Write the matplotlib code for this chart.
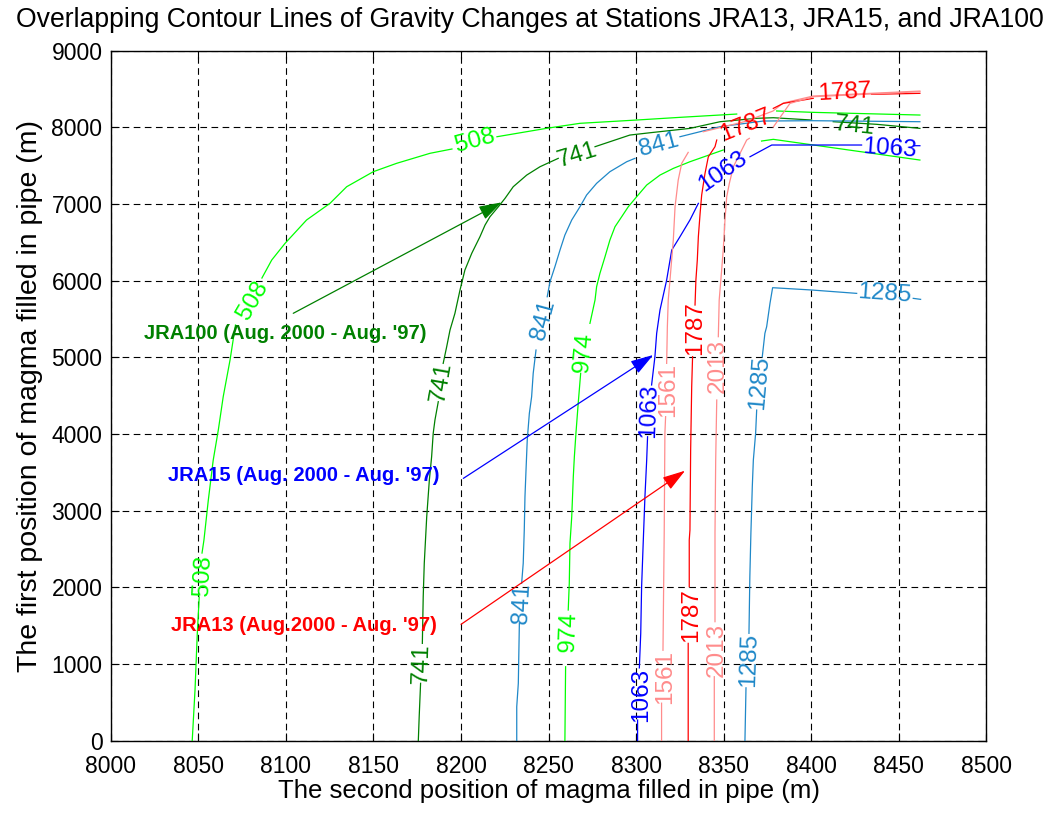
import numpy as np
import matplotlib
matplotlib.use('Agg')
import matplotlib.pyplot as plt

nan = np.nan

# ---------------- data ----------------
x_ticks = [8000, 8050, 8100, 8150, 8200, 8250, 8300, 8350, 8400, 8450, 8500]
y_ticks = [0, 1000, 2000, 3000, 4000, 5000, 6000, 7000, 8000, 9000]

# JRA100 contours
c508_x = [8046.5, 8048.1, 8049.4, 8050.5, nan, 8052.1, 8053.2, 8055.7, 8058.5, 8061.4, 8064.2, 8068.1, 8071.2, nan,
          8086.3, 8091.9, 8099.5, 8111.8, 8125.2, 8134.7, 8149.9, 8163.2, 8182.3, 8194.8, nan,
          8220.5, 8248.9, 8267.9, 8300.3, 8325.1, 8357.4, nan, 8380.2, 8401.1, 8462]
c508_y = [0, 661, 1401, 1874, nan, 2448, 2618, 3140, 3661, 4053, 4487, 4966, 5422, nan,
          6035, 6270, 6487, 6792, 7010, 7226, 7422, 7531, 7662, 7718, nan,
          7878, 7988, 8053, 8096, 8131, 8174, nan, 8214, 8196, 8161]

c741_x = [8175.6, 8176.1, 8176.9, nan, 8177.9, 8178.4, 8179.0, 8180.4, 8181.9, 8183.2, 8184.1, 8185.1, 8187.0, nan,
          8189.8, 8191.8, 8193.7, 8196.5, 8199.4, 8202.2, 8206.1, 8210.8, 8213.7, 8216.5, 8221.3, 8225.1, 8229.8,
          8237.5, 8245.1, 8255.5, nan, 8276.5, 8296.4, 8307.9, 8330.7, 8347.9, 8368.8, 8378.3, 8400.2, nan,
          8412.5, 8437.3, 8462]
c741_y = [0, 313, 749, nan, 1270, 1878, 2314, 2922, 3400, 3704, 4009, 4183, 4422, nan,
          4922, 5139, 5357, 5574, 5878, 6139, 6357, 6574, 6726, 6834, 6965, 7074, 7226,
          7378, 7487, 7596, nan, 7748, 7900, 7930, 7987, 8074, 8118, 8126, 8096, nan,
          8074, 8040, 7987]

c974_x = [8259.3, 8259.7, nan, 8261.2, 8261.8, 8262.2, 8263.2, 8264.1, 8264.7, 8265.6, 8266.9, 8268.3, nan,
          8273.6, 8276.5, 8277.4, 8279.3, 8282.2, 8285.0, 8287.9, 8291.7, 8295.5, 8300.3, 8306.0, 8313.6,
          8321.2, 8330.7, 8349.7, nan, 8371.6, 8378.3, 8462]
c974_y = [0, 965, nan, 1705, 2053, 2575, 2922, 3444, 3704, 4009, 4401, 4792, nan,
          5444, 5748, 5922, 6096, 6313, 6531, 6704, 6834, 6965, 7096, 7248, 7378,
          7465, 7552, 7705, nan, 7822, 7844, 7574]

# JRA15 contours
c841_x = [8231.8, 8231.8, 8232.7, 8233.3, nan, 8234.6, 8235.5, 8236.1, 8236.5, 8237.1, 8237.8, 8239.0, 8240.3,
          8241.2, 8242.8, nan, 8249.2, 8250.8, 8253.6, 8256.5, 8259.3, 8263.2, 8267.9, 8271.7, 8277.4, 8285.0,
          8294.6, 8299.3, nan, 8325.0, 8347.9, 8372.6, 8401.1, 8462]
c841_y = [0, 443, 749, 1531, nan, 2053, 2314, 2748, 3183, 3531, 3922, 4270, 4487,
          4792, 5096, nan, 5791, 5987, 6183, 6400, 6596, 6792, 6965, 7118, 7270, 7422,
          7552, 7596, nan, 7878, 8009, 8083, 8087, 8074]

c1063_x = [8300.8, 8300.8, nan, 8301.8, 8302.6, 8303.1, 8304.0, 8305.0, 8306.0, 8306.5, nan,
           8308.8, 8310.7, 8311.7, 8313.6, 8317.4, 8320.3, 8325.0, 8330.7, 8335.5, nan,
           8365.0, 8377.4, 8428.7, nan, 8458.5, 8462]
c1063_y = [0, 270, nan, 950, 1401, 2009, 2575, 3183, 3661, 3965, nan,
           4640, 5009, 5314, 5618, 6009, 6400, 6574, 6792, 7009, nan,
           7617, 7770, 7770, nan, 7761, 7761]

c1285_x = [8362.1, 8362.7, nan, 8364.4, 8364.9, 8365.5, 8366.3, 8366.9, 8368.2, 8368.8, nan,
           8372.0, 8373.5, 8374.5, 8376.4, 8377.9, 8400.2, 8425.9, nan, 8458.2, 8462.4]
c1285_y = [0, 690, nan, 1401, 2139, 2705, 3314, 3661, 4009, 4313, nan,
           5009, 5314, 5400, 5705, 5909, 5879, 5835, nan, 5770, 5757]

# JRA13 contours
c1561_x = [8314.5, 8314.5, nan, 8315.3, 8316.0, 8316.4, 8316.8, nan, 8317.4, 8317.8, 8318.3, 8319.3,
           8321.2, 8322.2, 8324.0, 8326.0, 8329.7, nan,
           8338.3, 8362.1, 8378.1, 8384.0, 8401.1, 8462]
c1561_y = [0, 490, nan, 1180, 2705, 4009, 4227, nan, 4922, 5400, 5748, 6009,
           6531, 6965, 7313, 7531, 7674, nan,
           7943, 8076, 8213, 8318, 8409, 8474]

c1787_x = [8329.7, 8329.7, nan, 8330.3, 8330.3, 8330.7, 8331.1, 8331.7, 8332.2, nan,
           8333.6, 8334.1, 8334.9, 8335.5, 8336.5, 8337.4, 8339.3, 8341.2, 8345.0, 8346.0, nan,
           8378.3, 8384.0, 8401.1, nan, 8434.4, 8462]
c1787_y = [0, 1270, nan, 2009, 2618, 2748, 3792, 4618, 5009, nan,
           5683, 6009, 6270, 6574, 6878, 7118, 7400, 7617, 7748, 7835, nan,
           8248, 8313, 8379, nan, 8431, 8444]

c2013_x = [8344.6, 8344.6, nan, 8345.0, 8345.0, 8345.4, 8346.0, nan, 8346.9, 8347.4, 8348.8, 8349.7,
           8350.7, 8351.7, 8353.2, 8355.5, 8359.3, 8363.1, 8364.6, nan,
           8378.3, 8387.8, 8401.1, 8462]
c2013_y = [0, 835, nan, 1553, 2705, 3661, 4444, nan, 5270, 5748, 6139, 6400,
           6792, 7096, 7270, 7487, 7661, 7835, 7857, nan,
           8005, 8313, 8400, 8465]

levels = ['508', '741', '974', '841', '1063', '1285', '1561', '1787', '2013']

# annotation texts
ann_texts = ["JRA100 (Aug. 2000 - Aug. '97)", "JRA15 (Aug. 2000 - Aug. '97)", "JRA13 (Aug.2000 - Aug. '97)"]

# ---------------- styling / layout ----------------
LIME = '#00FF00'
DKGREEN = '#008000'
STEEL = '#1F88C8'
BLUE = '#0000FF'
RED = '#FF0000'
PINK = '#FF8C8C'

line_specs = [
    (c508_x, c508_y, LIME), (c741_x, c741_y, DKGREEN), (c974_x, c974_y, LIME),
    (c841_x, c841_y, STEEL), (c1063_x, c1063_y, BLUE), (c1285_x, c1285_y, STEEL),
    (c1561_x, c1561_y, PINK), (c1787_x, c1787_y, RED), (c2013_x, c2013_y, PINK),
]
level_colors = [LIME, DKGREEN, LIME, STEEL, BLUE, STEEL, PINK, RED, PINK]

# inline contour label placements (x, y, rotation) per level
label_places = [
    [(8052.7, 2160, 87), (8081.2, 5748, 60), (8208.0, 7822, 15)],
    [(8177.6, 1011, 88), (8188.5, 4679, 80), (8266.2, 7640, 17), (8424.9, 8018, -6)],
    [(8261.6, 1418, 88), (8270.1, 5070, 85)],
    [(8234.8, 1795, 87), (8246.8, 5483, 75), (8312.9, 7770, 15)],
    [(8302.7, 596, 90), (8307.3, 4310, 88), (8349.5, 7418, 35), (8444.9, 7718, -4)],
    [(8364.4, 1053, 88), (8370.6, 4666, 85), (8441.9, 5826, -4)],
    [(8316.4, 830, 90), (8318.1, 4570, 90)],
    [(8331.6, 1640, 90), (8333.6, 5383, 90), (8362.6, 8031, 22), (8419.2, 8448, 3)],
    [(8346.1, 1183, 90), (8346.7, 4887, 90)],
]

ann_specs = [
    # text pos, arrow start, arrow tip, color
    ((8099.5, 5318), (8104.2, 5575), (8223.2, 7022), DKGREEN),
    ((8110.0, 3466), (8201.3, 3422), (8309.7, 5031), BLUE),
    ((8110.3, 1509), (8200.0, 1518), (8327.9, 3522), RED),
]

FONT = ['Liberation Sans', 'DejaVu Sans']
plt.rcParams['font.family'] = FONT

fig = plt.figure(figsize=(10.53, 8.14), dpi=100)
ax = fig.add_axes([0.1052, 0.0900, 0.8316, 0.8477])

ax.set_xlim(8000, 8500)
ax.set_ylim(0, 9000)
ax.set_xticks(x_ticks)
ax.set_yticks(y_ticks)
ax.tick_params(direction='in', top=True, right=True, length=6, width=0.8, labelsize=16.5)
ax.tick_params(axis='x', pad=10)
ax.tick_params(axis='y', pad=6)
for s in ax.spines.values():
    s.set_linewidth(1.0)
ax.grid(True, color='black', linestyle=(0, (6, 4)), linewidth=0.8)
ax.set_axisbelow(True)

for (xs, ys, col) in line_specs:
    ax.plot(xs, ys, color=col, lw=0.9, zorder=3)

for lev, col, places in zip(levels, level_colors, label_places):
    for (lx, ly, rot) in places:
        ax.text(lx, ly, lev, color=col, fontsize=17.5, rotation=rot, rotation_mode='anchor',
                ha='center', va='center', zorder=4)

for txt, (tpos, a0, a1, col) in zip(ann_texts, ann_specs):
    ax.text(tpos[0], tpos[1], txt, color=col, fontsize=14.5, fontweight='bold',
            ha='center', va='center', zorder=5)
    ax.annotate('', xy=a1, xytext=a0,
                arrowprops=dict(arrowstyle='-|>,head_length=0.7,head_width=0.22', color=col,
                                lw=0.9, mutation_scale=20, shrinkA=0, shrinkB=0), zorder=5)

ax.set_xlabel('The second position of magma filled in pipe (m)', fontsize=18.5, labelpad=1)
ax.set_ylabel('The first position of magma filled in pipe (m)', fontsize=20.5, labelpad=6)
fig.text(0.503, 0.975, 'Overlapping Contour Lines of Gravity Changes at Stations JRA13, JRA15, and JRA100',
         ha='center', va='center', fontsize=19.2)

fig.savefig('out.png', dpi=100)
